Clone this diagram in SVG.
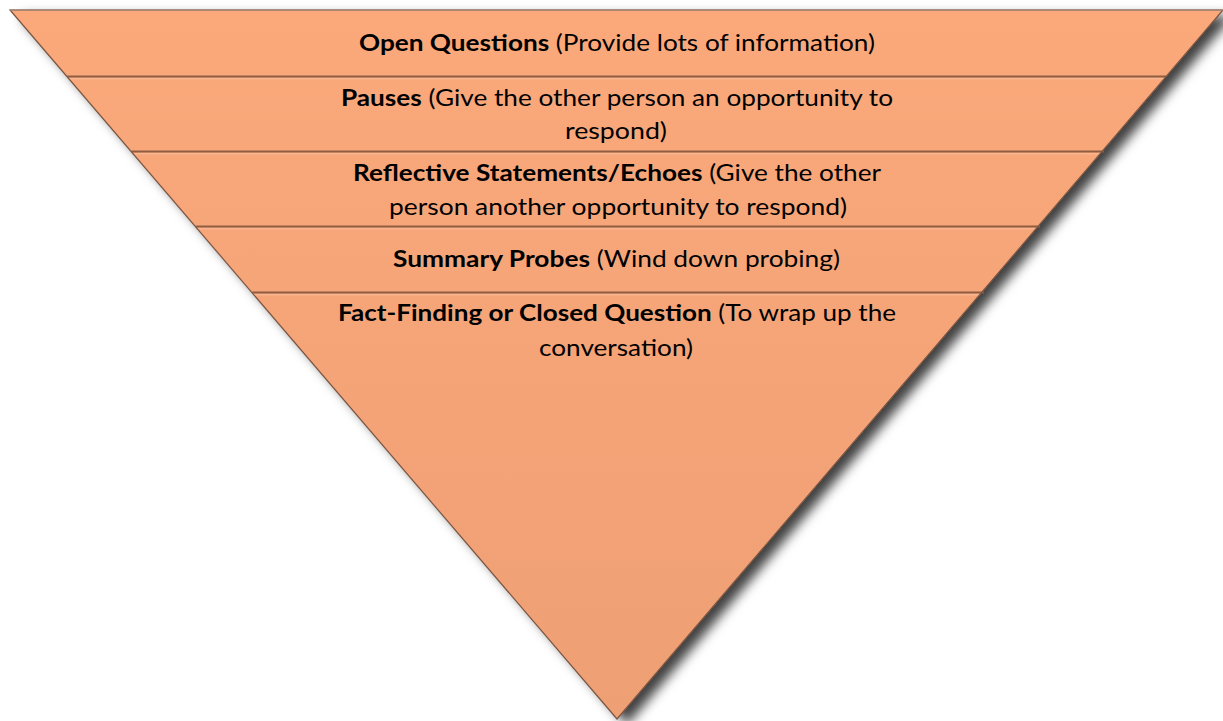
<svg xmlns="http://www.w3.org/2000/svg" width="1223" height="721" viewBox="0 0 1223 721">
<defs>
<linearGradient id="fillg" gradientUnits="userSpaceOnUse" x1="0" y1="10" x2="0" y2="719">
<stop offset="0" stop-color="#FBA97B"/>
<stop offset="1" stop-color="#EE9F74"/>
</linearGradient>
<filter id="shadow" x="-10%" y="-10%" width="125%" height="125%">
<feDropShadow dx="10" dy="6" stdDeviation="6" flood-color="#000" flood-opacity="0.75"/>
</filter>
</defs>
<style>
.band{fill:url(#fillg);stroke:none}
.edge{fill:none;stroke:#7a5440;stroke-width:1.2}
.sep{stroke:#8f5e42;stroke-width:2}
.hl{stroke:#fbbd9a;stroke-width:1}
.t{font-family:Lato,"Open Sans","Liberation Sans",sans-serif;font-size:22.5px;fill:#000;text-anchor:middle}
.b{font-weight:bold}
</style>
<polygon points="10,10 1223,10 617,719" fill="url(#fillg)" filter="url(#shadow)"/>
<g id="band1">
<polygon class="band" points="10,10 1223,10 1165.7,77 67.4,77"/>
<text class="t" x="617" y="51" textLength="516" lengthAdjust="spacingAndGlyphs"><tspan class="b">Open Questions</tspan> (Provide lots of information)</text>
</g>
<g id="band2">
<polygon class="band" points="67.4,77 1165.7,77 1101.6,152 131.6,152"/>
<text class="t" x="617" y="106" textLength="552" lengthAdjust="spacingAndGlyphs"><tspan class="b">Pauses</tspan> (Give the other person an opportunity to</text>
<text class="t" x="616" y="139" textLength="102" lengthAdjust="spacingAndGlyphs">respond)</text>
</g>
<g id="band3">
<polygon class="band" points="131.6,152 1101.6,152 1037.5,227 195.8,227"/>
<text class="t" x="617" y="181" textLength="528" lengthAdjust="spacingAndGlyphs"><tspan class="b">Reflective Statements/Echoes</tspan> (Give the other</text>
<text class="t" x="618" y="215" textLength="458" lengthAdjust="spacingAndGlyphs">person another opportunity to respond)</text>
</g>
<g id="band4">
<polygon class="band" points="195.8,227 1037.5,227 981.1,293 252.3,293"/>
<text class="t" x="616.5" y="267" textLength="447" lengthAdjust="spacingAndGlyphs"><tspan class="b">Summary Probes</tspan> (Wind down probing)</text>
</g>
<g id="band5">
<polygon class="band" points="252.3,293 981.1,293 617,719"/>
<text class="t" x="617" y="321" textLength="558" lengthAdjust="spacingAndGlyphs"><tspan class="b">Fact-Finding or Closed Question</tspan> (To wrap up the</text>
<text class="t" x="616" y="356" textLength="154" lengthAdjust="spacingAndGlyphs">conversation)</text>
</g>
<g id="connectors">
<line class="sep" x1="67.4" y1="76.5" x2="1166" y2="76.5"/>
<line class="hl" x1="68" y1="78.8" x2="1164" y2="78.8"/>
<line class="sep" x1="131.6" y1="151.5" x2="1104" y2="151.5"/>
<line class="hl" x1="132" y1="153.8" x2="1100" y2="153.8"/>
<line class="sep" x1="195.8" y1="226.5" x2="1040" y2="226.5"/>
<line class="hl" x1="196" y1="228.8" x2="1036" y2="228.8"/>
<line class="sep" x1="252.3" y1="292.5" x2="984" y2="292.5"/>
<line class="hl" x1="253" y1="294.8" x2="980" y2="294.8"/>
</g>
<polygon class="edge" points="10,10 1223,10 617,719"/>
<line x1="10" y1="10" x2="1223" y2="10" stroke="#a58a7a" stroke-width="1.4"/>
</svg>
